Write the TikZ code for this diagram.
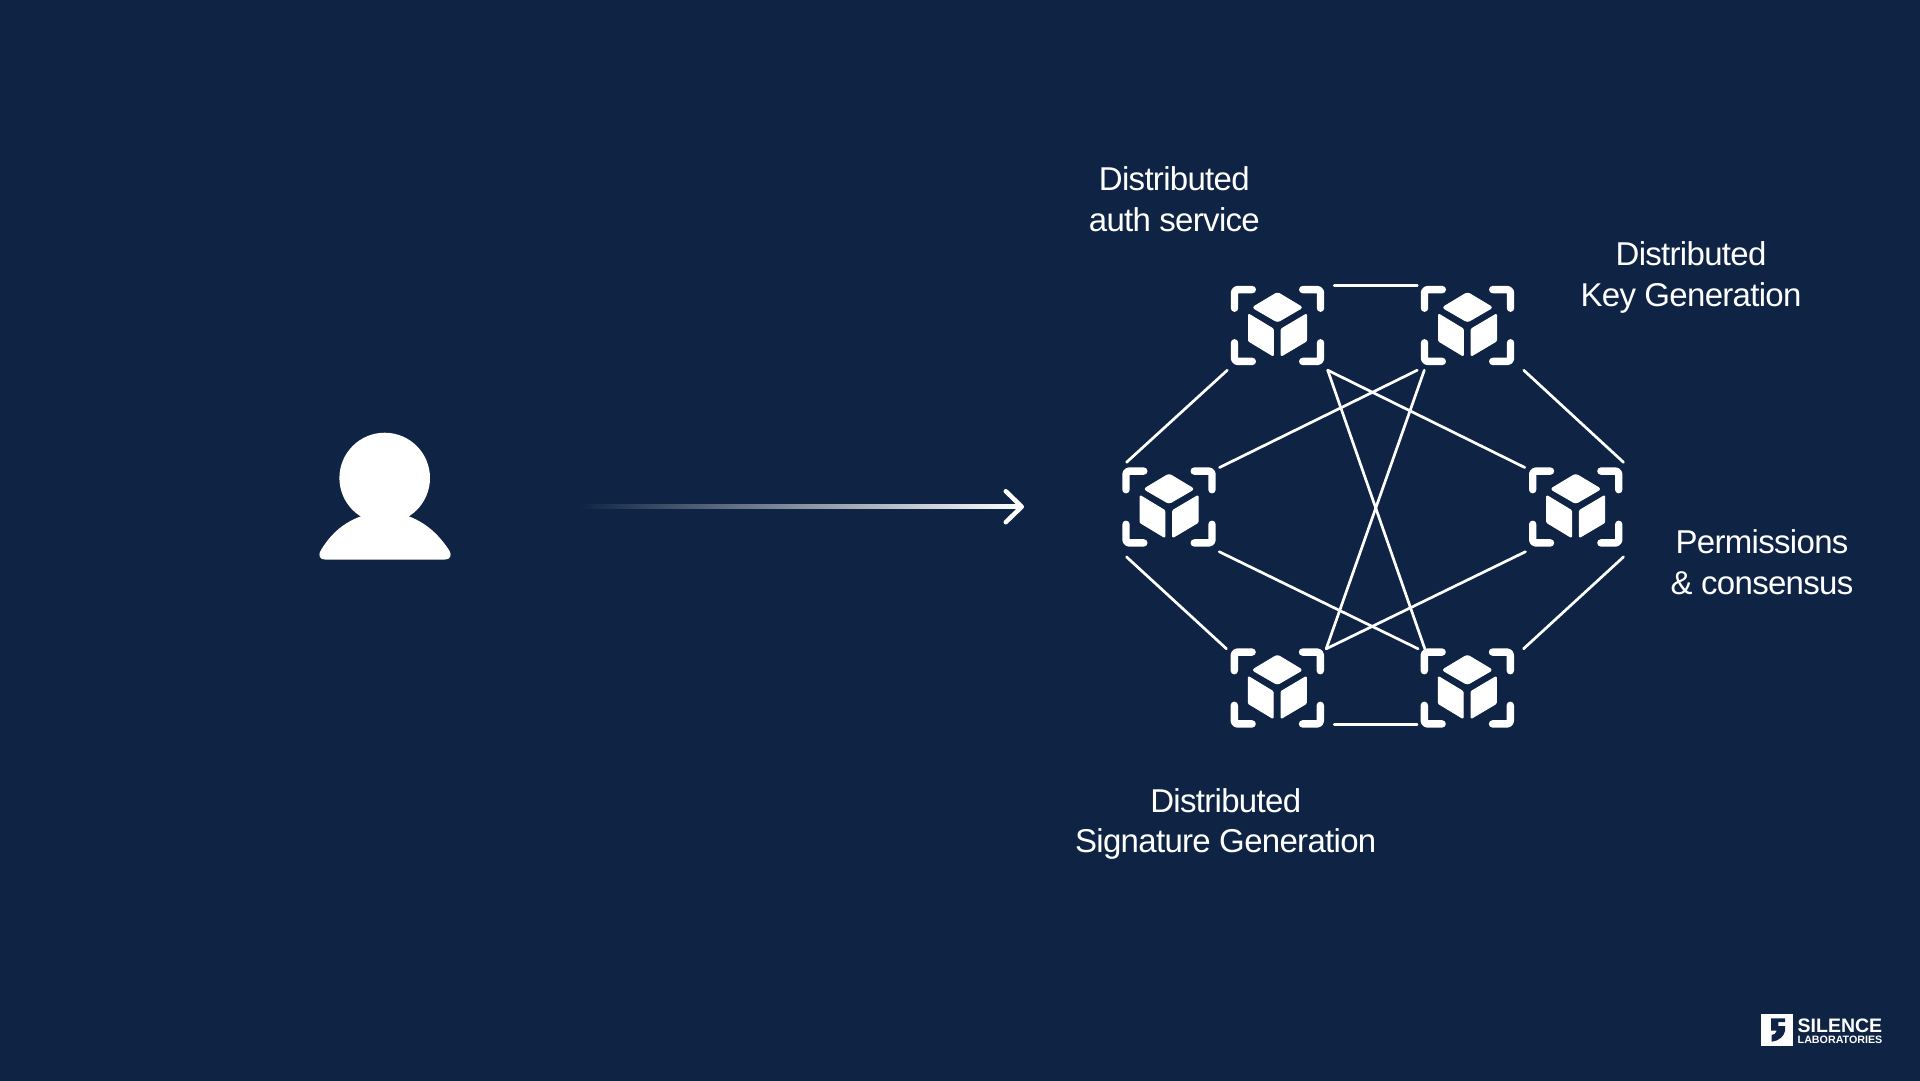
\documentclass[tikz,border=0pt]{standalone}
\usepackage{fontspec}
\setmainfont{Liberation Sans}
\newfontfamily\captionfont[LetterSpace=-2.1]{Liberation Sans}
\usetikzlibrary
  {
    arrows.meta, % barb at the end of the arrow
    positioning,
  }
\definecolor{navybg}{HTML}{0F2444}

\tikzset{
  blocknode/.style = {minimum width=100pt, minimum height=89pt, inner sep=0pt},
  connector/.style = {white, line width=2.7pt, line cap=round},
  iconframe/.style = {white, line width=7.4pt, line cap=round, line join=round, rounded corners=3pt},
  iconface/.style  = {fill=white, draw=white, line width=1pt, line join=round},
  caption/.style   = {text=white, align=center, font=\captionfont\fontsize{33}{40.8}\selectfont},
  cubeicon/.pic    = {
    \foreach \sx/\sy in {1/1, -1/1, 1/-1, -1/-1}
      \draw[iconframe, xscale=\sx, yscale=\sy] (-25.2,-35.9) -- (-43,-35.9) -- (-43,-17.3);
    \filldraw[iconface, rounded corners=2.5pt] (-25,-18) -- (0,-33) -- (25,-18) -- (0,-3.5) -- cycle;
    \filldraw[iconface, rounded corners=1pt] (-29,-11.5) -- (-4.2,3.5) -- (-4.2,30.5) -- (-29,15.5) -- cycle;
    \filldraw[iconface, rounded corners=1pt] (29,-11.5) -- (3.7,3.5) -- (3.7,30.5) -- (29,15.5) -- cycle;
  },
}

\begin{document}
\begin{tikzpicture}[x=1pt, y=-1pt]
  \useasboundingbox (0,0) rectangle (1920,1080);
  \fill[navybg] (-3,-3) rectangle (1923,1083);

  % user
  \node[circle, fill=white, minimum size=90.6pt, inner sep=0pt] (userhead) at (384.7,478) {};
  \fill[white] (361.7,516) .. controls (345,522) and (332,532) .. (321,550)
    .. controls (317.5,556) and (320,559.5) .. (325,559.5) -- (445,559.5)
    .. controls (450,559.5) and (452.5,556) .. (449,550)
    .. controls (437,532) and (424,522) .. (408,516) -- cycle;

  % arrow
  \coordinate (arrowstart) at (580,506.7);
  \coordinate (arrowtip) at (1025,506.7);
  \shade[left color=navybg, right color=white] ([shift={(0,-2)}]arrowstart) rectangle ([shift={(-3,2)}]arrowtip);
  \draw[white, line width=4.5pt, line cap=round, -{Straight Barb[length=16pt, width=31pt, round]}]
    ([shift={(-5,0)}]arrowtip) -- ([shift={(-1,0)}]arrowtip);

  % blocks
  \foreach \name/\cx/\cy in {authblock/1277.5/325.5, keyblock/1467.5/325.5, leftblock/1169/507,
                             permblock/1575.7/507, signblock/1277.3/688, lowblock/1467.3/688}
  {
    \node[blocknode] (\name) at (\cx,\cy) {};
    \pic at (\name) {cubeicon};
  }

  \draw[connector] ([shift={(6.5,5)}]authblock.north east) -- ([shift={(0,5)}]keyblock.north west);
  \draw[connector] ([shift={(6.7,-8)}]signblock.south east) -- ([shift={(0,-8)}]lowblock.south west);

  \draw[connector] (authblock.south west) -- ([shift={(7.7,0)}]leftblock.north west);
  \draw[connector] (authblock.south east) -- ([shift={(-0.7,5.2)}]permblock.north west);
  \draw[connector] (authblock.south east) -- ([shift={(7.7,5.5)}]lowblock.north west);

  \draw[connector] (keyblock.south west) -- ([shift={(0.3,5.2)}]leftblock.north east);
  \draw[connector] ([shift={(7,0)}]keyblock.south west) -- ([shift={(-1.3,5.5)}]signblock.north east);
  \draw[connector] ([shift={(6,0)}]keyblock.south east) -- ([shift={(-2.4,0)}]permblock.north east);

  \draw[connector] ([shift={(7.7,5.2)}]leftblock.south west) -- ([shift={(-0.6,5.5)}]signblock.north west);
  \draw[connector] (leftblock.south east) -- ([shift={(1,5.5)}]lowblock.north west);

  \draw[connector] (permblock.south west) -- ([shift={(-1.3,5.5)}]signblock.north east);
  \draw[connector] ([shift={(-2.4,5.2)}]permblock.south east) -- ([shift={(6,5.5)}]lowblock.north east);

  % labels
  \node[caption] (authlabel) at (1174.3,199) {Distributed\\auth service};
  \node[caption] (keylabel) at (1691,277.5) {Distributed\\Key Generation};
  \node[caption] (permlabel) at (1762,562.5) {Permissions\\\& consensus};
  \node[caption] (signlabel) at (1225.7,824) {Distributed\\Signature Generation};

  % logo
  \node[fill=white, minimum size=32.5pt, inner sep=0pt] (logobox) at (1777,1030.2) {};
  \fill[navybg] (1771,1018.3) -- (1785,1018.3) -- (1785,1022) -- (1778.3,1022) -- (1778.3,1026) -- (1785,1026)
    -- (1785,1031) .. controls (1784,1036) and (1779,1041) .. (1771.7,1041.7) -- (1771.7,1035)
    .. controls (1774,1035) and (1776,1033.5) .. (1776.7,1030.7) -- (1771,1030.7) -- cycle;
  \node[text=white, font=\bfseries\fontsize{19.5}{20}\selectfont, anchor=west, inner sep=0pt] (logotop) at (1797.5,1025.5) {SILENCE};
  \node[text=white, font=\bfseries\fontsize{10.7}{10.7}\selectfont, anchor=west, inner sep=0pt] (logobottom) at (1797.5,1039.5) {LABORATORIES};
\end{tikzpicture}
\end{document}
